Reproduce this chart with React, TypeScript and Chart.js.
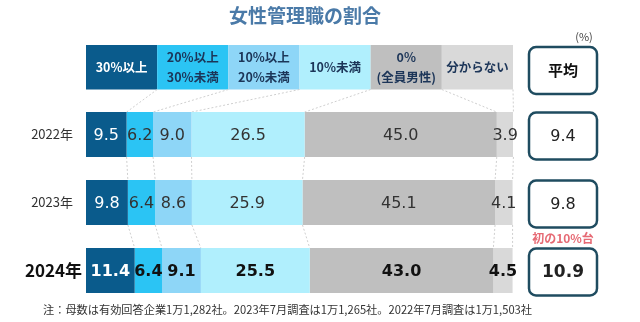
import React, { useEffect, useRef } from "react";
import { Chart, registerables } from "chart.js";

Chart.register(...registerables);

const years = ["2022年", "2023年", "2024年"];
const categories = ["30%以上", "20%以上\n30%未満", "10%以上\n20%未満", "10%未満", "0%\n(全員男性)", "分からない"];
const s30 = [9.5, 9.8, 11.4];
const s20 = [6.2, 6.4, 6.4];
const s10 = [9.0, 8.6, 9.1];
const sUnder10 = [26.5, 25.9, 25.5];
const sZero = [45.0, 45.1, 43.0];
const sUnknown = [3.9, 4.1, 4.5];
const averages = [9.4, 9.8, 10.9];
const seriesValues = [s30, s20, s10, sUnder10, sZero, sUnknown];

const colors = ["#0a5b8c", "#2bc4f4", "#8ed6f7", "#b0effd", "#bfbfbf", "#d9d9d9"];
const headerText = ["#ffffff", "#1c3558", "#1c3558", "#1c3558", "#1c3558", "#1c3558"];

const title = "女性管理職の割合";
const avgTitle = "平均";
const unitLabel = "(%)";
const avgNote = "初の10%台";
const footnote = "注：母数は有効回答企業1万1,282社。2023年7月調査は1万1,265社。2022年7月調査は1万1,503社";

const JP = '"Noto Sans CJK JP", "Noto Sans", sans-serif';
const NUM = '"DejaVu Sans", "Noto Sans CJK JP", sans-serif';

function rowGeom(chart: any, r: number) {
  const metas = categories.map((_, i) => chart.getDatasetMeta(i));
  const first = metas[0].data[r] as any;
  const b = [first.base];
  metas.forEach((m: any) => b.push(m.data[r].x));
  const h = first.height;
  return { b, top: first.y - h / 2, bottom: first.y + h / 2, y: first.y };
}

const decor = {
  id: "decor",
  beforeDatasetsDraw(chart: any) {
    const { ctx, chartArea } = chart;
    const n = categories.length;
    const hTop = 45;
    const hBot = 89.5;
    const w = (chartArea.right - chartArea.left) / n;
    const hb = categories.map((_, k) => chartArea.left + k * w);
    hb.push(chartArea.right);

    ctx.save();
    categories.forEach((c, k) => {
      ctx.fillStyle = colors[k];
      ctx.fillRect(hb[k], hTop, hb[k + 1] - hb[k], hBot - hTop);
      ctx.fillStyle = headerText[k];
      ctx.font = `bold 12.5px ${JP}`;
      ctx.textAlign = "center";
      ctx.textBaseline = "middle";
      const lines = c.split("\n");
      const cx = (hb[k] + hb[k + 1]) / 2;
      const cy = (hTop + hBot) / 2;
      lines.forEach((ln, i) => {
        ctx.fillText(ln, cx, cy + (i - (lines.length - 1) / 2) * 20);
      });
    });

    ctx.strokeStyle = "#cfcfcf";
    ctx.lineWidth = 1;
    ctx.setLineDash([2, 2]);
    const g0 = rowGeom(chart, 0);
    for (let k = 1; k <= n; k++) {
      ctx.beginPath();
      ctx.moveTo(hb[k], hBot);
      ctx.lineTo(g0.b[k], g0.top);
      ctx.stroke();
    }
    for (let r = 0; r < years.length - 1; r++) {
      const ga = rowGeom(chart, r);
      const gb = rowGeom(chart, r + 1);
      for (let k = 1; k <= n; k++) {
        ctx.beginPath();
        ctx.moveTo(ga.b[k], ga.bottom);
        ctx.lineTo(gb.b[k], gb.top);
        ctx.stroke();
      }
    }
    ctx.restore();
  },
  afterDatasetsDraw(chart: any) {
    const { ctx, chartArea } = chart;
    ctx.save();
    ctx.textBaseline = "middle";

    ctx.fillStyle = "#4a7aa8";
    ctx.font = `bold 19px ${JP}`;
    ctx.textAlign = "center";
    ctx.fillText(title, 305, 15.5);

    seriesValues.forEach((vals, i) => {
      const meta = chart.getDatasetMeta(i);
      meta.data.forEach((el: any, r: number) => {
        const last = r === years.length - 1;
        ctx.font = last ? `bold 16px ${NUM}` : `16px ${NUM}`;
        ctx.fillStyle = i === 0 ? "#ffffff" : last ? "#111111" : "#333333";
        ctx.textAlign = "center";
        ctx.fillText(vals[r].toFixed(1), (el.x + el.base) / 2, el.y + 1);
      });
    });

    years.forEach((yl, r) => {
      const g = rowGeom(chart, r);
      const last = r === years.length - 1;
      ctx.textAlign = "right";
      ctx.font = last ? `bold 17px ${JP}` : `13px ${JP}`;
      ctx.fillStyle = last ? "#111111" : "#333333";
      ctx.fillText(yl, last ? chartArea.left - 4 : chartArea.left - 13, g.y);
    });

    const bx = 529;
    const bw = 68;
    const drawBox = (y0: number, h: number) => {
      ctx.beginPath();
      (ctx as any).roundRect(bx, y0, bw, h, 7);
      ctx.fillStyle = "#ffffff";
      ctx.fill();
      ctx.lineWidth = 2.5;
      ctx.strokeStyle = "#1f4c60";
      ctx.stroke();
    };
    drawBox(47, 47);
    ctx.fillStyle = "#111111";
    ctx.textAlign = "center";
    ctx.font = `bold 15px ${JP}`;
    ctx.fillText(avgTitle, bx + bw / 2, 70.5);
    ctx.font = `11px ${JP}`;
    ctx.fillStyle = "#444444";
    ctx.fillText(unitLabel, 584, 37);

    averages.forEach((v, r) => {
      const g = rowGeom(chart, r);
      const last = r === years.length - 1;
      const h = 47;
      drawBox(g.y + 1.5 - h / 2, h);
      ctx.fillStyle = "#222222";
      ctx.textAlign = "center";
      ctx.font = last ? `bold 17px ${NUM}` : `16px ${NUM}`;
      ctx.fillText(v.toFixed(1), bx + bw / 2, g.y + 2.5);
      if (last) {
        ctx.fillStyle = "#e66a74";
        ctx.font = `bold 12px ${JP}`;
        ctx.fillText(avgNote, bx + bw / 2, g.y - h / 2 - 9);
      }
    });

    ctx.fillStyle = "#333333";
    ctx.textAlign = "left";
    ctx.font = `11.2px ${JP}`;
    ctx.fillText(footnote, 43, 310);
    ctx.restore();
  },
};

export default function App() {
  const ref = useRef<HTMLCanvasElement | null>(null);
  useEffect(() => {
    if (!ref.current) return;
    const chart = new Chart(ref.current, {
      type: "bar",
      data: {
        labels: years,
        datasets: categories.map((c, i) => ({
          label: c.replace("\n", ""),
          data: seriesValues[i],
          backgroundColor: colors[i],
          borderWidth: 0,
          categoryPercentage: 0.66,
          barPercentage: 1,
        })),
      },
      options: {
        indexAxis: "y",
        responsive: false,
        maintainAspectRatio: false,
        animation: false,
        layout: { padding: { left: 86, right: 127, top: 100.5, bottom: 17.5 } },
        scales: {
          x: { stacked: true, display: false, min: 0, max: 100 },
          y: { stacked: true, display: false },
        },
        plugins: { legend: { display: false }, tooltip: { enabled: false } },
      },
      plugins: [decor],
    });
    return () => chart.destroy();
  }, []);
  return (
    <div style={{ position: "fixed", left: 0, top: 0, width: 640, height: 322, background: "#ffffff" }}>
      <canvas ref={ref} width={640} height={322} style={{ display: "block", width: 640, height: 322 }} />
    </div>
  );
}
